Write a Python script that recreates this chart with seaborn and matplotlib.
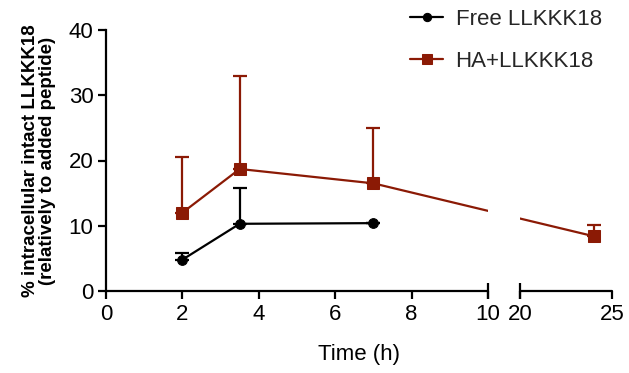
import numpy as np
import pandas as pd
import matplotlib
matplotlib.use("Agg")
import matplotlib.pyplot as plt
import seaborn as sns

# ---- data ----
free_time = [2, 3.5, 7]
free_mean = [4.8, 10.3, 10.4]
free_err = [1.0, 5.5, 0.0]

ha_time = [2, 3.5, 7, 24]
ha_mean = [12.0, 18.7, 16.5, 8.4]
ha_err = [8.5, 14.2, 8.5, 1.7]

series_names = ["Free LLKKK18", "HA+LLKKK18"]
x_ticks = [0, 2, 4, 6, 8, 10, 20, 25]
y_ticks = [0, 10, 20, 30, 40]

BLACK = "#000000"
RED = "#8B1A05"

sns.set_theme(style="ticks")
plt.rcParams["font.family"] = ["Liberation Sans", "DejaVu Sans"]

fig = plt.figure(figsize=(6.29, 3.73), dpi=100)
ax = fig.add_axes([106 / 629, 1 - 291 / 373, (612 - 106) / 629, (291 - 30) / 373])

GAP = 0.838
K = 0.482


def fwd(x):
    x = np.asarray(x, dtype=float)
    return np.where(x <= 10, x,
                    np.where(x <= 20, 10 + (x - 10) * GAP / 10, 10 + GAP + (x - 20) * K))


def inv(y):
    y = np.asarray(y, dtype=float)
    return np.where(y <= 10, y,
                    np.where(y <= 10 + GAP, 10 + (y - 10) * 10 / GAP, 20 + (y - 10 - GAP) / K))


ax.set_xscale("function", functions=(fwd, inv))
ax.set_xlim(0, 25)
ax.set_ylim(0, 40)

df_free = pd.DataFrame({"t": free_time, "v": free_mean})
df_ha = pd.DataFrame({"t": ha_time, "v": ha_mean})

sns.lineplot(data=df_free, x="t", y="v", ax=ax, color=BLACK, marker="o", markersize=7,
             markeredgecolor=BLACK, linewidth=1.6, label=series_names[0], zorder=3)
sns.lineplot(data=df_ha, x="t", y="v", ax=ax, color=RED, marker="s", markersize=8,
             markeredgecolor=RED, linewidth=1.6, label=series_names[1], zorder=3)

ax.errorbar(free_time, free_mean, yerr=[np.zeros(len(free_err)), free_err], fmt="none",
            ecolor=BLACK, elinewidth=1.6, capsize=5, capthick=1.6, zorder=2)
ax.errorbar(ha_time, ha_mean, yerr=[np.zeros(len(ha_err)), ha_err], fmt="none",
            ecolor=RED, elinewidth=1.6, capsize=5, capthick=1.6, zorder=2)

# break gap
ax.axvspan(10, 20, color="white", zorder=4, lw=0)

# axes styling
for s in ["top", "right", "bottom"]:
    ax.spines[s].set_visible(False)
ax.spines["left"].set_linewidth(1.6)
ax.spines["left"].set_color("black")
xt = ax.get_xaxis_transform()
ax.plot([0, 10], [0, 0], color="black", lw=1.6, transform=xt, clip_on=False, zorder=5)
ax.plot([20, 25], [0, 0], color="black", lw=1.6, transform=xt, clip_on=False, zorder=5)
ax.plot([10, 20], [0, 0], linestyle="none", marker="|", markersize=11, markeredgewidth=1.6,
        color="black", transform=xt, clip_on=False, zorder=5)

ax.set_xticks(x_ticks)
ax.set_xticklabels([str(t) for t in x_ticks])
ax.set_yticks(y_ticks)
ax.tick_params(axis="both", direction="out", length=6, width=1.6, color="black",
               labelsize=16, labelcolor="black", pad=3)
ax.minorticks_off()

ax.set_xlabel("Time (h)", fontsize=16, labelpad=14, color="black")
ax.set_ylabel("% intracellular intact LLKKK18\n(relatively to added peptide)", fontsize=13.5,
              fontweight="bold", labelpad=9, color="black", linespacing=1.0)

ax.legend_.remove()
h, l = ax.get_legend_handles_labels()
fig.legend(h[:2], l[:2], loc="upper left", bbox_to_anchor=(390 / 629, 1.03), frameon=False,
           fontsize=16, labelspacing=0.95, handlelength=1.5, handletextpad=0.55,
           markerscale=0.85)

fig.savefig("out.png", dpi=100)
